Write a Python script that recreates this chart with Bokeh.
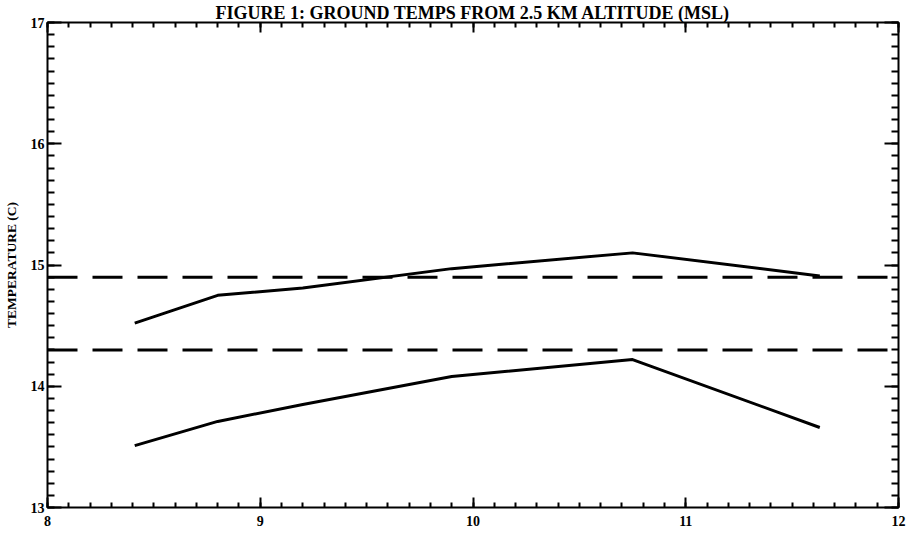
from bokeh.plotting import figure
from bokeh.models import LinearAxis, SingleIntervalTicker, Range1d
from bokeh.embed import file_html
from bokeh.resources import INLINE

# ---- data ----
hours = [8.41, 8.80, 9.20, 9.90, 10.75, 11.63]
upper_temps = [14.52, 14.75, 14.81, 14.97, 15.10, 14.91]
lower_temps = [13.51, 13.71, 13.85, 14.08, 14.22, 13.66]
ref_x = [8.0, 12.0]
upper_ref = [14.9, 14.9]
lower_ref = [14.3, 14.3]
x_ticks = [8, 9, 10, 11, 12]
y_ticks = [13, 14, 15, 16, 17]
title_text = "FIGURE 1: GROUND TEMPS FROM 2.5 KM ALTITUDE (MSL)"
y_label = "TEMPERATURE (C)"

SERIF = "Liberation Serif"

p = figure(width=916, height=540, output_backend="svg", toolbar_location=None,
           x_range=Range1d(8, 12), y_range=Range1d(13, 17),
           min_border_left=47, min_border_right=18, min_border_top=0,
           min_border_bottom=33)
p.background_fill_color = "white"
p.border_fill_color = "white"
p.outline_line_color = "black"
p.outline_line_width = 2
p.xgrid.visible = False
p.ygrid.visible = False

p.title.text = title_text
p.title.align = "center"
p.title.text_font = SERIF
p.title.text_font_style = "bold"
p.title.text_font_size = "18px"
p.title.text_color = "black"
p.title.standoff = 0
p.title.offset = 0

def style_axis(ax, ticker, major_len, minor_len, labels=True):
    ax.ticker = ticker
    ax.axis_line_color = None
    ax.major_tick_in = major_len
    ax.major_tick_out = 0
    ax.minor_tick_in = minor_len
    ax.minor_tick_out = 0
    ax.major_tick_line_width = 2
    ax.minor_tick_line_width = 2
    ax.major_tick_line_color = "black"
    ax.minor_tick_line_color = "black"
    ax.major_label_text_font = SERIF
    ax.major_label_text_font_style = "bold"
    ax.major_label_text_font_size = "14px"
    ax.major_label_text_color = "black"
    if not labels:
        ax.major_label_text_font_size = "0px"
        ax.major_label_text_color = None
        ax.major_label_standoff = 0

xt = SingleIntervalTicker(interval=1, num_minor_ticks=10)
yt = SingleIntervalTicker(interval=1, num_minor_ticks=10)

style_axis(p.xaxis[0], xt, 10, 5)
p.xaxis[0].major_label_standoff = 8
style_axis(p.yaxis[0], yt, 14, 7)
p.yaxis[0].major_label_standoff = 3
p.yaxis[0].axis_label = y_label
p.yaxis[0].axis_label_text_font = SERIF
p.yaxis[0].axis_label_text_font_style = "bold"
p.yaxis[0].axis_label_text_font_size = "13.5px"
p.yaxis[0].axis_label_text_color = "black"
p.yaxis[0].axis_label_standoff = 9

top_ax = LinearAxis()
style_axis(top_ax, SingleIntervalTicker(interval=1, num_minor_ticks=10), 10, 5, labels=False)
p.add_layout(top_ax, "above")
right_ax = LinearAxis()
style_axis(right_ax, SingleIntervalTicker(interval=1, num_minor_ticks=10), 14, 7, labels=False)
p.add_layout(right_ax, "right")

# reference (dashed) lines
p.line(ref_x, upper_ref, line_color="black", line_width=3, line_dash="30 15")
p.line(ref_x, lower_ref, line_color="black", line_width=3, line_dash="30 15")
# solid series
p.line(hours, upper_temps, line_color="black", line_width=3)
p.line(hours, lower_temps, line_color="black", line_width=3)

open("out.html", "w").write(file_html(p, INLINE))
